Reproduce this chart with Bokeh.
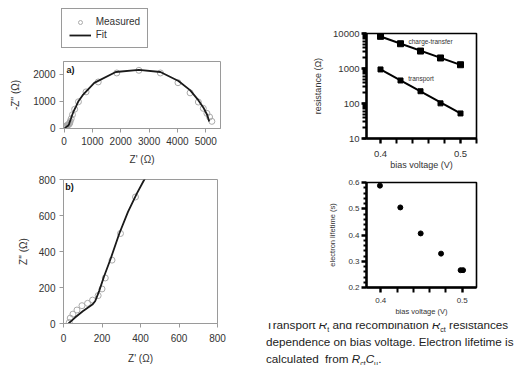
from bokeh.plotting import figure
from bokeh.layouts import row, column
from bokeh.models import (Div, Legend, LegendItem, FixedTicker, Label, Arrow, OpenHead,
                          Range1d, NumeralTickFormatter)
from bokeh.embed import file_html
from bokeh.resources import INLINE

FONT = "Liberation Sans"

# ---------------- data ----------------
# Nyquist plot (Z' , -Z'') in Ohm
meas_zre = [30, 35, 49, 70, 96, 125, 151, 180, 200, 217, 252, 296, 374,
            507, 776, 1206, 1860, 2640, 3399, 4020, 4447, 4738, 4913, 5040, 5135, 5215]
meas_zim = [6, 30, 52, 75, 99, 112, 130, 155, 192, 253, 352, 500, 703,
            980, 1346, 1713, 2045, 2143, 2045, 1685, 1310, 970, 735, 551, 415, 255]
fit_zre = [26, 60, 100, 150, 165, 185, 210, 245, 290, 335, 380, 420, 507, 657,
           1066, 1825, 2640, 3399, 4038, 4445, 4738, 4913, 5052, 5122]
fit_zim = [0, 33, 68, 105, 125, 180, 260, 360, 500, 620, 720, 800, 1000, 1224,
           1678, 2081, 2160, 2081, 1750, 1409, 1040, 771, 490, 245]
nyq_xticks = [0, 1000, 2000, 3000, 4000, 5000]
nyq_yticks = [0, 1000, 2000]
zoom_ticks = [0, 200, 400, 600, 800]
# zoomed region marker (drawn in panel-a units) and pointer arrow
inset_box = dict(left=-308, right=602, bottom=-155, top=747)
pointer = dict(x_start=308, y_start=-155, x_end=777, y_end=-1737)

# resistance vs bias voltage
bias_v = [0.400, 0.425, 0.450, 0.475, 0.500]
r_ct = [8300, 5100, 3150, 2000, 1280]
r_t = [940, 455, 224, 101, 52]
fit_v = [0.400, 0.500]
r_ct_fit = [8200, 1270]
r_t_fit = [950, 52]

# electron lifetime vs bias voltage
life_v = [0.399, 0.424, 0.449, 0.474, 0.498, 0.501]
lifetime = [0.588, 0.505, 0.406, 0.329, 0.266, 0.266]

v_ticks = [0.4, 0.5]
v_minor = [0.38, 0.42, 0.44, 0.46, 0.48, 0.52]
life_ticks = [0.2, 0.3, 0.4, 0.5, 0.6]
life_minor = [0.22, 0.24, 0.26, 0.28, 0.32, 0.34, 0.36, 0.38, 0.42, 0.44, 0.46, 0.48,
              0.52, 0.54, 0.56, 0.58]

GRAY = "#9a9a9a"
TXT = "#333333"
MEAS_STYLE = dict(marker="circle", size=6, fill_color=None, line_color="#aaaaaa", line_width=1)
FIT_STYLE = dict(line_color="#1a1a1a", line_width=1.8)


def base(p):
    for g in p.grid:
        g.visible = False
    p.border_fill_color = None
    p.background_fill_color = None


def style_gray(p):
    base(p)
    p.outline_line_color = GRAY
    p.outline_line_width = 1
    for ax in p.axis:
        ax.axis_line_color = GRAY
        ax.major_tick_line_color = GRAY
        ax.major_tick_out = 4
        ax.major_tick_in = 0
        ax.minor_tick_line_color = None
        ax.major_label_text_font = FONT
        ax.major_label_text_font_size = "10px"
        ax.major_label_text_color = TXT
        ax.major_label_standoff = 4
        ax.axis_label_text_font = FONT
        ax.axis_label_text_font_size = "10px"
        ax.axis_label_text_font_style = "normal"
        ax.axis_label_text_color = TXT
        ax.axis_label_standoff = 6


def style_black(p, tick_size, title_size):
    base(p)
    p.outline_line_color = "black"
    p.outline_line_width = 1.6
    for ax in p.axis:
        ax.axis_line_color = "black"
        ax.axis_line_width = 2.4
        ax.major_tick_line_color = "black"
        ax.major_tick_line_width = 2.4
        ax.major_tick_out = 5
        ax.major_tick_in = 0
        ax.minor_tick_line_color = "black"
        ax.minor_tick_line_width = 2
        ax.minor_tick_out = 4
        ax.minor_tick_in = 0
        ax.major_label_text_font = FONT
        ax.major_label_text_font_size = tick_size
        ax.major_label_text_color = TXT
        ax.major_label_standoff = 2
        ax.axis_label_text_font = FONT
        ax.axis_label_text_font_size = title_size
        ax.axis_label_text_font_style = "normal"
        ax.axis_label_text_color = TXT
        ax.axis_label_standoff = 4


def bare(w, h, xr, yr, **kw):
    f = figure(frame_width=w, frame_height=h, x_range=Range1d(*xr), y_range=Range1d(*yr),
               x_axis_location=None, y_axis_location=None,
               min_border=0, min_border_left=0, min_border_right=0, min_border_top=0,
               min_border_bottom=0, output_backend="svg", toolbar_location=None, **kw)
    base(f)
    f.outline_line_color = None
    return f


# ---------------- legend strip (above panel a) ----------------
LEG_H = 50
pl = bare(261, LEG_H, (-2, -1), (-2, -1))      # data fall outside: only the legend shows
lm = pl.scatter(meas_zre, meas_zim, **MEAS_STYLE)
lf = pl.line(fit_zre, fit_zim, **FIT_STYLE)
pl.add_layout(Legend(items=[LegendItem(label="Measured", renderers=[lm]),
                            LegendItem(label="Fit", renderers=[lf])],
                     location=(60.7, 2), orientation="vertical",
                     label_text_font=FONT, label_text_font_size="10px", label_text_color=TXT,
                     glyph_width=22, glyph_height=10, label_height=10, label_standoff=5,
                     padding=7, spacing=2, margin=0,
                     border_line_color=GRAY, border_line_width=1, border_line_alpha=1,
                     background_fill_color="white", background_fill_alpha=1))

# ---------------- panel a ----------------
A_XR = (-20, 5520)
A_YR = (-10, 2470)
A_LEFT, A_FW, A_TOP, A_FH = 60, 157, 61, 67
pa = figure(frame_width=A_FW, frame_height=A_FH,
            x_range=Range1d(*A_XR), y_range=Range1d(*A_YR),
            min_border_left=A_LEFT, min_border_right=44, min_border_top=A_TOP - LEG_H,
            min_border_bottom=44,
            output_backend="svg", toolbar_location=None)
style_gray(pa)
pa.xaxis.ticker = FixedTicker(ticks=nyq_xticks)
pa.yaxis.ticker = FixedTicker(ticks=nyq_yticks)
pa.xaxis.axis_label = "Z' (Ω)"
pa.yaxis.axis_label = "-Z'' (Ω)"
pa.yaxis.axis_label_standoff = 9
pa.scatter(meas_zre, meas_zim, **MEAS_STYLE)
pa.line(fit_zre, fit_zim, **FIT_STYLE)
pa.add_layout(Label(x=87, y=2164, text="a)", text_font=FONT, text_font_size="9px",
                    text_font_style="bold", text_baseline="middle", text_color="#111"))

# ---------------- panel b ----------------
pb = figure(frame_width=154, frame_height=144,
            x_range=Range1d(0, 800), y_range=Range1d(0, 800),
            min_border_left=63, min_border_right=44, min_border_top=7, min_border_bottom=42,
            output_backend="svg", toolbar_location=None)
style_gray(pb)
pb.xaxis.ticker = FixedTicker(ticks=zoom_ticks)
pb.yaxis.ticker = FixedTicker(ticks=zoom_ticks)
pb.xaxis.axis_label = "Z' (Ω)"
pb.yaxis.axis_label = "Z'' (Ω)"
pb.xaxis.major_label_standoff = 6
pb.xaxis.axis_label_standoff = 8
pb.yaxis.axis_label_standoff = 7
pb.scatter(meas_zre, meas_zim, **MEAS_STYLE)
pb.line(fit_zre, fit_zim, **FIT_STYLE)
pb.add_layout(Label(x=9, y=759, text="b)", text_font=FONT, text_font_size="9px",
                    text_font_style="bold", text_baseline="middle", text_color="#111"))

# ---------------- overlay on top: inset box + pointer arrow (panel-a units) ----------------
OV_X0, OV_Y0, OV_W, OV_H = 40, 100, 60, 80          # pixel window of the overlay
COL_H = 365
sx = (A_XR[1] - A_XR[0]) / A_FW
sy = (A_YR[1] - A_YR[0]) / A_FH
ov_xr = (A_XR[0] + (OV_X0 - A_LEFT) * sx, A_XR[0] + (OV_X0 + OV_W - A_LEFT) * sx)
ov_yr = (A_YR[1] - (OV_Y0 + OV_H - A_TOP) * sy, A_YR[1] - (OV_Y0 - A_TOP) * sy)
ov = bare(OV_W, OV_H, ov_xr, ov_yr,
          margin=(-(COL_H - OV_Y0), 0, COL_H - OV_Y0 - OV_H, OV_X0))
ov.quad(left=[inset_box["left"]], right=[inset_box["right"]],
        bottom=[inset_box["bottom"]], top=[inset_box["top"]],
        fill_color=None, line_color=GRAY, line_width=1)
ov.add_layout(Arrow(**pointer, line_color="#777777", line_width=1,
                    end=OpenHead(size=7, line_color="#777777", line_width=1)))

# ---------------- panel c ----------------
pc = figure(frame_width=110, frame_height=105, y_axis_type="log",
            x_range=Range1d(0.3825, 0.52), y_range=Range1d(10, 10000),
            min_border_left=105, min_border_right=41, min_border_top=33, min_border_bottom=34,
            output_backend="svg", toolbar_location=None)
style_black(pc, "9.5px", "9px")
pc.xaxis.ticker = FixedTicker(ticks=v_ticks, minor_ticks=v_minor)
pc.yaxis.formatter = NumeralTickFormatter(format="0")
pc.xaxis.minor_tick_out = 5
pc.xaxis.axis_label = "bias voltage (V)"
pc.yaxis.axis_label = "resistance (Ω)"
pc.xaxis.major_label_standoff = 7
pc.xaxis.axis_label_standoff = 0
pc.yaxis.axis_label_standoff = 7
pc.line(fit_v, r_ct_fit, line_color="black", line_width=2)
pc.line(fit_v, r_t_fit, line_color="black", line_width=2)
pc.scatter(bias_v, r_ct, marker="square", size=6, color="black")
pc.scatter(bias_v, r_t, marker="square", size=5, color="black")
pc.add_layout(Label(x=0.435, y=5740, text="charge-transfer", text_font=FONT,
                    text_font_size="6.5px", text_baseline="middle", text_color=TXT))
pc.add_layout(Label(x=0.4347, y=509, text="transport", text_font=FONT,
                    text_font_size="6.5px", text_baseline="middle", text_color=TXT))

# ---------------- panel d ----------------
pd = figure(frame_width=110, frame_height=105,
            x_range=Range1d(0.3825, 0.5175), y_range=Range1d(0.2, 0.6),
            min_border_left=103, min_border_right=43, min_border_top=10, min_border_bottom=31,
            output_backend="svg", toolbar_location=None)
style_black(pd, "8px", "7.5px")
pd.xaxis.ticker = FixedTicker(ticks=v_ticks, minor_ticks=v_minor)
pd.yaxis.ticker = FixedTicker(ticks=life_ticks, minor_ticks=life_minor)
pd.xaxis.minor_tick_out = 5
pd.yaxis.minor_tick_out = 3
pd.xaxis.axis_label = "bias voltage (V)"
pd.yaxis.axis_label = "electron lifetime (s)"
pd.xaxis.major_label_standoff = 5
pd.xaxis.axis_label_standoff = 1
pd.yaxis.axis_label_standoff = 8
pd.scatter(life_v, lifetime, marker="circle", size=5, color="black")

SUB = '<sub style="font-size:7px;line-height:0">'
caption = Div(
    text=('<div style="margin:-7px 0 0 0; padding:0; white-space:nowrap;'
          ' font-family:\'Liberation Sans\';'
          ' font-size:11.7px; line-height:17px; color:#222;">'
          'Transport <i>R</i>' + SUB + 't</sub> and recombination '
          '<i>R</i>' + SUB + 'ct</sub> resistances<br>'
          'dependence on bias voltage. Electron lifetime is<br>'
          'calculated&nbsp; from <i>R</i>' + SUB + 'ct</sub>'
          '<i>C</i>' + SUB + 'μ</sub>.</div>'),
    width=256, height=47, styles={"overflow": "hidden"})

layout = row(column(pl, pa, pb, ov), column(pc, pd, caption))
open("out.html", "w").write(file_html(layout, INLINE))
